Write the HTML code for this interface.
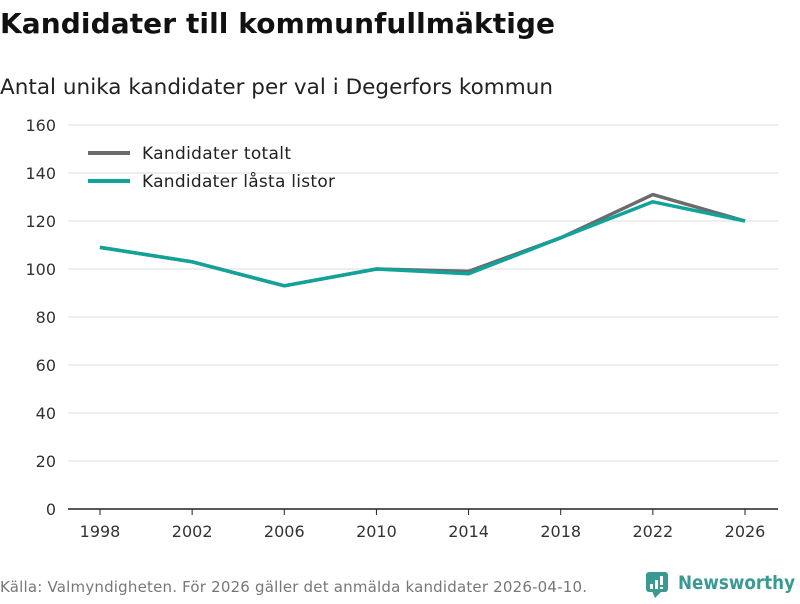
<!DOCTYPE html>
<html><head><meta charset="utf-8"><style>
body{margin:0;width:800px;height:600px;background:#fff;font-family:"DejaVu Sans","Liberation Sans",sans-serif;overflow:hidden}
</style></head><body>
<svg id="chart" width="800" height="600" xmlns="http://www.w3.org/2000/svg">
<text x="0" y="33" font-size="28" font-weight="bold" fill="#111" textLength="555">Kandidater till kommunfullmäktige</text>
<text x="0" y="94" font-size="21.5" fill="#222" textLength="553">Antal unika kandidater per val i Degerfors kommun</text>
<g id="grid"></g><g id="xaxis"></g><g id="lines"></g>
<g>
<g><line x1="88" y1="153" x2="130" y2="153" stroke="#6b6b6b" stroke-width="4"/><text x="142" y="159" font-size="17" fill="#222" textLength="149">Kandidater totalt</text></g>
<g><line x1="88" y1="181" x2="130" y2="181" stroke="#0fa39a" stroke-width="4"/><text x="142" y="187" font-size="17" fill="#222" textLength="193">Kandidater låsta listor</text></g>
</g>
<text x="0" y="592" font-size="15" fill="#777" textLength="587">Källa: Valmyndigheten. För 2026 gäller det anmälda kandidater 2026-04-10.</text>
<g>
<rect x="646" y="572" width="22" height="20" rx="3" fill="#3a9a92"/><polygon points="652,591 662,591 655,598" fill="#3a9a92"/>
<rect x="650" y="584" width="3" height="5" fill="#fff"/><rect x="655" y="580" width="3" height="9" fill="#fff"/><rect x="660" y="576" width="3" height="9" fill="#fff"/><rect x="660" y="587" width="3" height="2" fill="#fff"/>
<text x="678" y="589" font-size="19" font-weight="bold" fill="#3a9a92" textLength="117" lengthAdjust="spacingAndGlyphs">Newsworthy</text>
</g>
</svg>
<script>
const years=[1998,2002,2006,2010,2014,2018,2022,2026];
const totalValues=[109,103,93,100,99,113,131,120];
const lockedValues=[109,103,93,100,98,113,128,120];
const yTicks=[0,20,40,60,80,100,120,140,160];
const NS="http://www.w3.org/2000/svg";
const x=v=>100+(v-1998)*(645/28);
const y=v=>509-v*2.4;
const grid=document.getElementById('grid'),xa=document.getElementById('xaxis'),lines=document.getElementById('lines');
function mk(t,a,p){const e=document.createElementNS(NS,t);for(const k in a)e.setAttribute(k,a[k]);p.appendChild(e);return e;}
yTicks.forEach(v=>{
 const l=mk('line',{x1:68,x2:778,y1:y(v),y2:y(v),stroke:v===0?'#222':'#ddd','stroke-width':v===0?1.5:1},grid);
 
 
 const t=mk('text',{x:56,y:y(v)+6,'text-anchor':'end','font-size':16,fill:'#333'},grid);t.textContent=v;
 
 
});
years.forEach(yr=>{
 const l=mk('line',{x1:x(yr),x2:x(yr),y1:509,y2:515,stroke:'#222'},xa);
 
 
 const t=mk('text',{x:x(yr),y:537,'text-anchor':'middle','font-size':16,fill:'#333'},xa);t.textContent=yr;
 
 
});
function line(vals,c,name){
 const p=mk('polyline',{points:vals.map((v,i)=>x(years[i])+','+y(v)).join(' '),fill:'none',stroke:c,'stroke-width':3.5,'stroke-linejoin':'round'},lines);
 
 
}
line(totalValues,'#6b6b6b','line-total');
line(lockedValues,'#0fa39a','line-locked');
</script>
</body></html>
